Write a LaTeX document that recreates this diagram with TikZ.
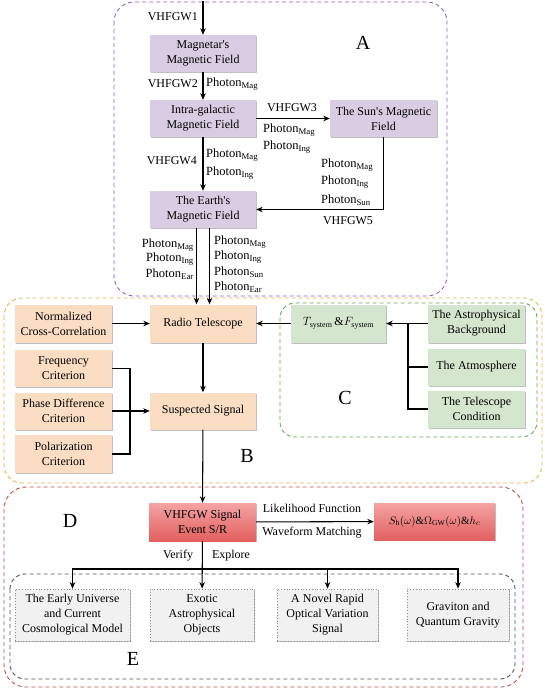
\documentclass[tikz,border=0pt]{standalone}
\usepackage{fontspec}
\setmainfont{Liberation Serif}
\usetikzlibrary{arrows.meta,shadows}
\definecolor{cpurple}{HTML}{D9CDE3}
\definecolor{corange}{HTML}{FBDDC4}
\definecolor{cgreen}{HTML}{D5E6CF}
\definecolor{cgray}{HTML}{F1F1F1}
\definecolor{redtop}{HTML}{F4A3A3}
\definecolor{redbot}{HTML}{E35F5F}
\definecolor{lnA}{HTML}{8E63C9}
\definecolor{lnB}{HTML}{E5B54A}
\definecolor{lnC}{HTML}{6FA457}
\definecolor{lnD}{HTML}{C2504D}
\definecolor{lnE}{HTML}{555555}
\newcommand\myfs{\fontsize{12}{15}\selectfont}
\newcommand\Ph[1]{Photon\textsubscript{#1}}
\newcommand\aps{\textquotesingle}
\begin{document}
\begin{tikzpicture}[x=1pt,y=-1pt,
  box/.style={align=center, font=\myfs, inner sep=1pt,
    drop shadow={shadow xshift=1.3pt, shadow yshift=-1.3pt, fill=black!45, opacity=.55}},
  pbox/.style={box, fill=cpurple},
  obox/.style={box, fill=corange},
  gbox/.style={box, fill=cgreen},
  rbox/.style={box, top color=redtop, bottom color=redbot},
  ebox/.style={box, fill=cgray, draw=black!45, dotted, line width=0.8pt},
  arr/.style={-{Stealth[length=6.5pt,width=5.5pt]}, line width=1.05pt},
  ln/.style={line width=1.05pt},
  lbl/.style={font=\myfs, inner sep=1pt},
  plbl/.style={font=\fontsize{12.5}{15}\selectfont, inner sep=1pt},
  big/.style={font=\fontsize{20}{24}\selectfont},
  cont/.style={dashed, dash pattern=on 4pt off 3pt, line width=0.9pt}
]
\useasboundingbox (0,0) rectangle (545,690);
\fill[white] (0,0) rectangle (545,690);

% containers
\draw[cont, lnA, rounded corners=20pt] (114,2) rectangle (447,296);
\draw[cont, lnB, rounded corners=18pt] (4,298) rectangle (542,483);
\draw[cont, lnC, rounded corners=15pt] (280,303) rectangle (537,437);
\draw[cont, lnD, rounded corners=22pt] (4,487) rectangle (523,687);
\draw[cont, lnE, rounded corners=15pt] (10,574) rectangle (515,679);

\node[big] (lA) at (363,43) {A};
\node[big] (lB) at (247,456) {B};
\node[big] (lC) at (345,398) {C};
\node[big] (lD) at (70,521) {D};
\node[big] (lE) at (133,659) {E};

% A
\node[pbox, minimum width=106pt, minimum height=37pt] (mag) at (203,53.5) {Magnetar\aps s\\Magnetic Field};
\node[pbox, minimum width=106pt, minimum height=37pt] (intra) at (203,118.5) {Intra-galactic\\Magnetic Field};
\node[pbox, minimum width=107pt, minimum height=37pt] (sun) at (383.5,118.5) {The Sun\aps s Magnetic\\Field};
\node[pbox, minimum width=106pt, minimum height=37pt] (earth) at (203,209.5) {The Earth\aps s\\Magnetic Field};

% B
\node[obox, minimum width=106pt, minimum height=38pt] (rt) at (203,323.5) {Radio Telescope};
\node[obox, minimum width=97pt, minimum height=38pt] (ncc) at (63.5,323.5) {Normalized\\Cross-Correlation};
\node[obox, minimum width=97pt, minimum height=37pt] (freq) at (63.5,368.5) {Frequency\\Criterion};
\node[obox, minimum width=97pt, minimum height=37pt] (phase) at (63.5,411) {Phase Difference\\Criterion};
\node[obox, minimum width=97pt, minimum height=38pt] (pol) at (63.5,454) {Polarization\\Criterion};
\node[obox, minimum width=106pt, minimum height=37pt] (susp) at (203,411) {Suspected Signal};

% C
\node[gbox, minimum width=95pt, minimum height=38pt] (tf) at (338.5,323.5) {$T_{\mathrm{system}}$\,\&$F_{\mathrm{system}}$};
\node[gbox, minimum width=97pt, minimum height=38pt] (astro) at (476.5,323.5) {The Astrophysical\\Background};
\node[gbox, minimum width=97pt, minimum height=37pt] (atmo) at (476.5,367) {The Atmosphere};
\node[gbox, minimum width=97pt, minimum height=37pt] (tele) at (476.5,409) {The Telescope\\Condition};

% D
\node[rbox, minimum width=107pt, minimum height=38pt] (sig) at (202.5,522) {VHFGW Signal\\Event S/R};
\node[rbox, minimum width=121pt, minimum height=37pt, font=\fontsize{11}{13}\selectfont] (sh) at (434.5,521.5) {$S_{\mathrm{h}}(\omega)$\&$\Omega_{\mathrm{GW}}(\omega)$\&$h_{c}$};

% E
\node[ebox, minimum width=115pt, minimum height=52pt] (e1) at (72.5,615) {The Early Universe\\and Current\\Cosmological Model};
\node[ebox, minimum width=104pt, minimum height=52pt] (e2) at (202,615) {Exotic\\Astrophysical\\Objects};
\node[ebox, minimum width=101pt, minimum height=52pt] (e3) at (327.5,615) {A Novel Rapid\\Optical Variation\\Signal};
\node[ebox, minimum width=102pt, minimum height=52pt] (e4) at (458,615) {Graviton and\\Quantum Gravity};

% coordinates
\coordinate (src) at (203,1);
\coordinate (br) at (130,411);
\coordinate (cb) at (408,323.5);
\coordinate (j) at (202,569);

% A connectors
\draw[arr] (src) -- (mag);
\draw[arr] (mag) -- (intra);
\draw[arr] (intra) -- (sun);
\draw[arr] (intra) -- (earth);
\draw[arr] (sun) |- (earth);
\draw[arr] ([xshift=-6.5pt]earth.south) -- ([xshift=-6.5pt]rt.north);
\draw[arr] ([xshift=6.5pt]earth.south) -- ([xshift=6.5pt]rt.north);

% B connectors
\draw[arr] (ncc) -- (rt);
\draw[arr] (rt) -- (susp);
\draw[ln] (freq.east) -| (br) |- (pol.east);
\draw[arr] (phase) -- (susp);
\draw[arr] (tf) -- (rt);

% C connectors
\draw[arr] (astro) -- (tf);
\draw[ln] (tele.west) -| (cb);
\draw[ln] (atmo.west) -- (atmo.west -| cb);

% D connectors
\draw[arr] (susp) -- (sig);
\draw[arr] (sig) -- (sh);
\draw[arr] (sig) -- (e2);
\draw[arr] (j) -| (e1);
\draw[arr] (j) -| (e3);
\draw[arr] (j) -| (e4);

% labels
\node[lbl, anchor=east] (t1) at (199,17) {VHFGW1};
\node[lbl, anchor=east] (t2) at (199,84) {VHFGW2};
\node[plbl, anchor=west] (p2) at (205,84) {\Ph{Mag}};
\node[lbl] (t3) at (292,108) {VHFGW3};
\node[plbl, anchor=west] (p3a) at (262,130) {\Ph{Mag}};
\node[plbl, anchor=west] (p3b) at (262,147) {\Ph{Ing}};
\node[lbl, anchor=east] (t4) at (198,161) {VHFGW4};
\node[plbl, anchor=west] (p4a) at (205,155) {\Ph{Mag}};
\node[plbl, anchor=west] (p4b) at (205,173) {\Ph{Ing}};
\node[plbl, anchor=west] (p5a) at (320,165) {\Ph{Mag}};
\node[plbl, anchor=west] (p5b) at (320,182) {\Ph{Ing}};
\node[plbl, anchor=west] (p5c) at (320,200) {\Ph{Sun}};
\node[lbl] (t5) at (348,221) {VHFGW5};
\node[plbl, anchor=east] (pla) at (195,245) {\Ph{Mag}};
\node[plbl, anchor=east] (plb) at (195,259) {\Ph{Ing}};
\node[plbl, anchor=east] (plc) at (195,274) {\Ph{Ear}};
\node[plbl, anchor=west] (pra) at (213,242) {\Ph{Mag}};
\node[plbl, anchor=west] (prb) at (213,257) {\Ph{Ing}};
\node[plbl, anchor=west] (prc) at (213,272) {\Ph{Sun}};
\node[plbl, anchor=west] (prd) at (213,287) {\Ph{Ear}};
\node[lbl] (lf) at (312,508) {Likelihood Function};
\node[lbl] (wm) at (312,533) {Waveform Matching};
\node[lbl] (vf) at (178,556) {Verify};
\node[lbl] (ex) at (231,556) {Explore};
\end{tikzpicture}
\end{document}
